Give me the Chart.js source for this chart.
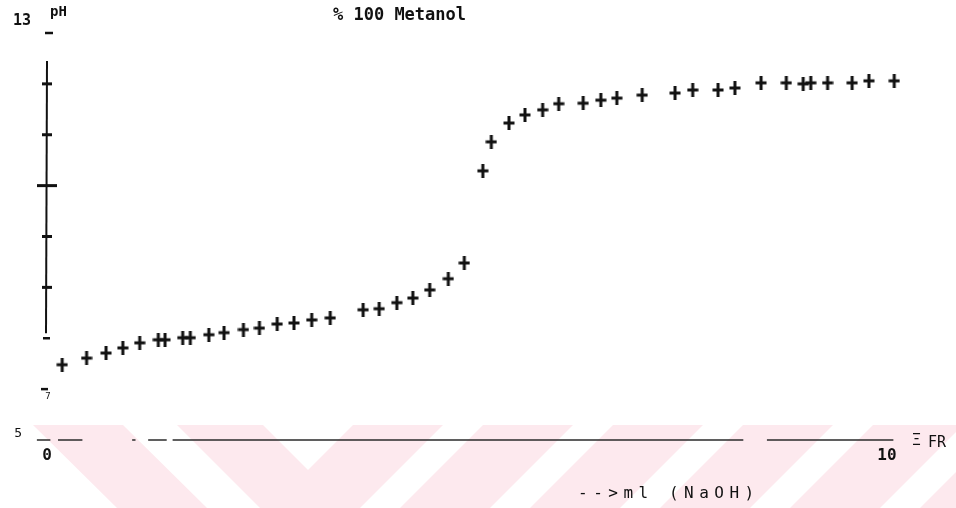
<!DOCTYPE html>
<html>
<head>
<meta charset="utf-8">
<script src="https://cdn.jsdelivr.net/npm/chart.js@4/dist/chart.umd.min.js"></script>
<style>
  html, body { margin: 0; padding: 0; background: #ffffff; }
  #wrap { position: relative; width: 956px; height: 508px; overflow: hidden; }
  canvas { position: absolute; left: 0; top: 0; }
</style>
</head>
<body>
<div id="wrap"><canvas id="c" width="956" height="508"></canvas></div>
<script>
// Titration of the sample in 100 % methanol with NaOH
const volumeML = [0.18, 0.47, 0.70, 0.90, 1.10, 1.32, 1.40, 1.61, 1.70, 1.92,
                  2.10, 2.33, 2.52, 2.73, 2.93, 3.14, 3.36, 3.75, 3.94, 4.15,
                  4.34, 4.54, 4.76, 4.95, 5.17, 5.27, 5.48, 5.67, 5.88, 6.07,
                  6.36, 6.57, 6.76, 7.06, 7.45, 7.66, 7.96, 8.16, 8.47, 8.77,
                  8.97, 9.06, 9.26, 9.55, 9.75, 10.05];
const pHValues = [6.48, 6.61, 6.71, 6.81, 6.91, 6.97, 6.97, 7.01, 7.01, 7.07,
                  7.11, 7.17, 7.20, 7.28, 7.30, 7.36, 7.40, 7.56, 7.58, 7.70,
                  7.79, 7.95, 8.17, 8.48, 10.29, 10.86, 11.23, 11.39, 11.49, 11.61,
                  11.62, 11.68, 11.72, 11.78, 11.82, 11.88, 11.88, 11.92, 12.02, 12.02,
                  12.00, 12.02, 12.02, 12.02, 12.06, 12.06];

const titleText = '% 100 Metanol';
const yAxisName = 'pH';
const xAxisName = '-->ml (NaOH)';
const xTickLabels = ['0', '10'];
const yEndLabels = ['13', '5'];
const yMarkValues = [12, 11, 10, 9, 8];
const cornerNote = 'Ξ';
const cornerText = 'FR';

const INK = '#111111';

// plus-shaped marker, a little taller than wide
function makePlus() {
  const cv = document.createElement('canvas');
  cv.width = 12; cv.height = 14;
  const g = cv.getContext('2d');
  g.fillStyle = INK;
  g.fillRect(4.5, 0, 3, 14);
  g.fillRect(0.5, 5.5, 11, 3);
  return cv;
}

// faint diagonal bands along the bottom of the sheet
const bandPlugin = {
  id: 'bands',
  beforeDraw(chart) {
    const ctx = chart.ctx;
    const top = 425, bot = 508;
    ctx.save();
    ctx.fillStyle = 'rgb(253,233,238)';
    const quads = [
      [[33, top], [123, top], [207, bot], [117, bot]],
      [[177, top], [263, top], [346, bot], [260, bot]]
    ];
    for (let b = 353; b < 1100; b += 130) {
      quads.push([[b, top], [b + 90, top], [b + 7, bot], [b - 83, bot]]);
    }
    quads.forEach(q => {
      ctx.beginPath();
      ctx.moveTo(q[0][0], q[0][1]);
      for (let i = 1; i < q.length; i++) ctx.lineTo(q[i][0], q[i][1]);
      ctx.closePath();
      ctx.fill();
    });
    ctx.restore();
  }
};

// hand-plotter style axes and labels
const axesPlugin = {
  id: 'plotterAxes',
  afterDatasetsDraw(chart) {
    const ctx = chart.ctx;
    const xs = chart.scales.x, ys = chart.scales.y;
    const x0 = xs.getPixelForValue(0);
    const x10 = xs.getPixelForValue(10);
    const yBase = ys.getPixelForValue(5);
    ctx.save();
    ctx.strokeStyle = INK;
    ctx.fillStyle = INK;

    // vertical pH axis
    ctx.lineWidth = 2;
    ctx.beginPath();
    ctx.moveTo(x0, ys.getPixelForValue(12.45));
    ctx.lineTo(x0 - 1, ys.getPixelForValue(7.1));
    ctx.stroke();

    ctx.lineWidth = 3;
    yMarkValues.forEach(v => {
      const y = ys.getPixelForValue(v);
      const half = v === 10 ? 10 : 5;
      ctx.beginPath();
      ctx.moveTo(x0 - half, y);
      ctx.lineTo(x0 + half, y);
      ctx.stroke();
    });
    // short marks at 13, 7 and 6
    ctx.lineWidth = 2.5;
    [[13, -2, 6], [7, -4, 3], [6, -6, 1]].forEach(([v, a, b]) => {
      const y = ys.getPixelForValue(v);
      ctx.beginPath();
      ctx.moveTo(x0 + a, y);
      ctx.lineTo(x0 + b, y);
      ctx.stroke();
    });

    // broken baseline at pH 5
    ctx.strokeStyle = '#2a2a2a';
    ctx.lineWidth = 1.5;
    const segs = [[-0.12, 0.04], [0.13, 0.42], [1.01, 1.05], [1.2, 1.42], [1.49, 8.26], [8.54, 10.04]];
    segs.forEach(([a, b]) => {
      ctx.beginPath();
      ctx.moveTo(xs.getPixelForValue(a), yBase);
      ctx.lineTo(xs.getPixelForValue(b), yBase);
      ctx.stroke();
    });

    // labels
    ctx.textBaseline = 'middle';
    ctx.font = 'bold 17px "DejaVu Sans Mono"';
    ctx.textAlign = 'center';
    ctx.fillText(titleText, (x0 + x10) / 2 - 69, 16);

    ctx.font = 'bold 15px "DejaVu Sans Mono"';
    ctx.textAlign = 'right';
    ctx.fillText(yEndLabels[0], x0 - 16, ys.getPixelForValue(13) - 12);
    ctx.font = '13px "DejaVu Sans Mono"';
    ctx.fillText(yEndLabels[1], x0 - 25, yBase - 6);

    ctx.textAlign = 'left';
    ctx.font = 'bold 14px "DejaVu Sans Mono"';
    ctx.fillText(yAxisName, x0 + 3, 12);

    ctx.textAlign = 'center';
    ctx.font = 'bold 16px "DejaVu Sans Mono"';
    ctx.fillText(xTickLabels[0], x0, yBase + 16);
    ctx.fillText(xTickLabels[1], x10 - 3, yBase + 16);

    ctx.font = '9px "DejaVu Sans Mono"';
    ctx.fillText('7', x0 + 1, ys.getPixelForValue(5.85));

    ctx.textAlign = 'left';
    ctx.font = '15px "DejaVu Sans Mono"';
    ctx.fillText(cornerNote, x10 + 22, yBase + 1);
    ctx.fillText(cornerText, x10 + 38, yBase + 3);

    ctx.font = '16px "DejaVu Sans Mono"';
    if ('letterSpacing' in ctx) ctx.letterSpacing = '5.5px';
    ctx.fillText(xAxisName, xs.getPixelForValue(6.3), yBase + 54);
    ctx.restore();
  }
};

const points = volumeML.map((v, i) => ({ x: v, y: pHValues[i] }));

new Chart(document.getElementById('c'), {
  type: 'scatter',
  data: {
    datasets: [{
      label: 'pH',
      data: points,
      pointStyle: makePlus(),
      pointRadius: 6,
      clip: false
    }]
  },
  options: {
    responsive: false,
    animation: false,
    events: [],
    layout: { padding: { left: 47, right: 66, top: 33, bottom: 68 } },
    scales: {
      x: { type: 'linear', min: 0, max: 10, display: false },
      y: { type: 'linear', min: 5, max: 13, display: false }
    },
    plugins: { legend: { display: false }, tooltip: { enabled: false } }
  },
  plugins: [bandPlugin, axesPlugin]
});
</script>
</body>
</html>
